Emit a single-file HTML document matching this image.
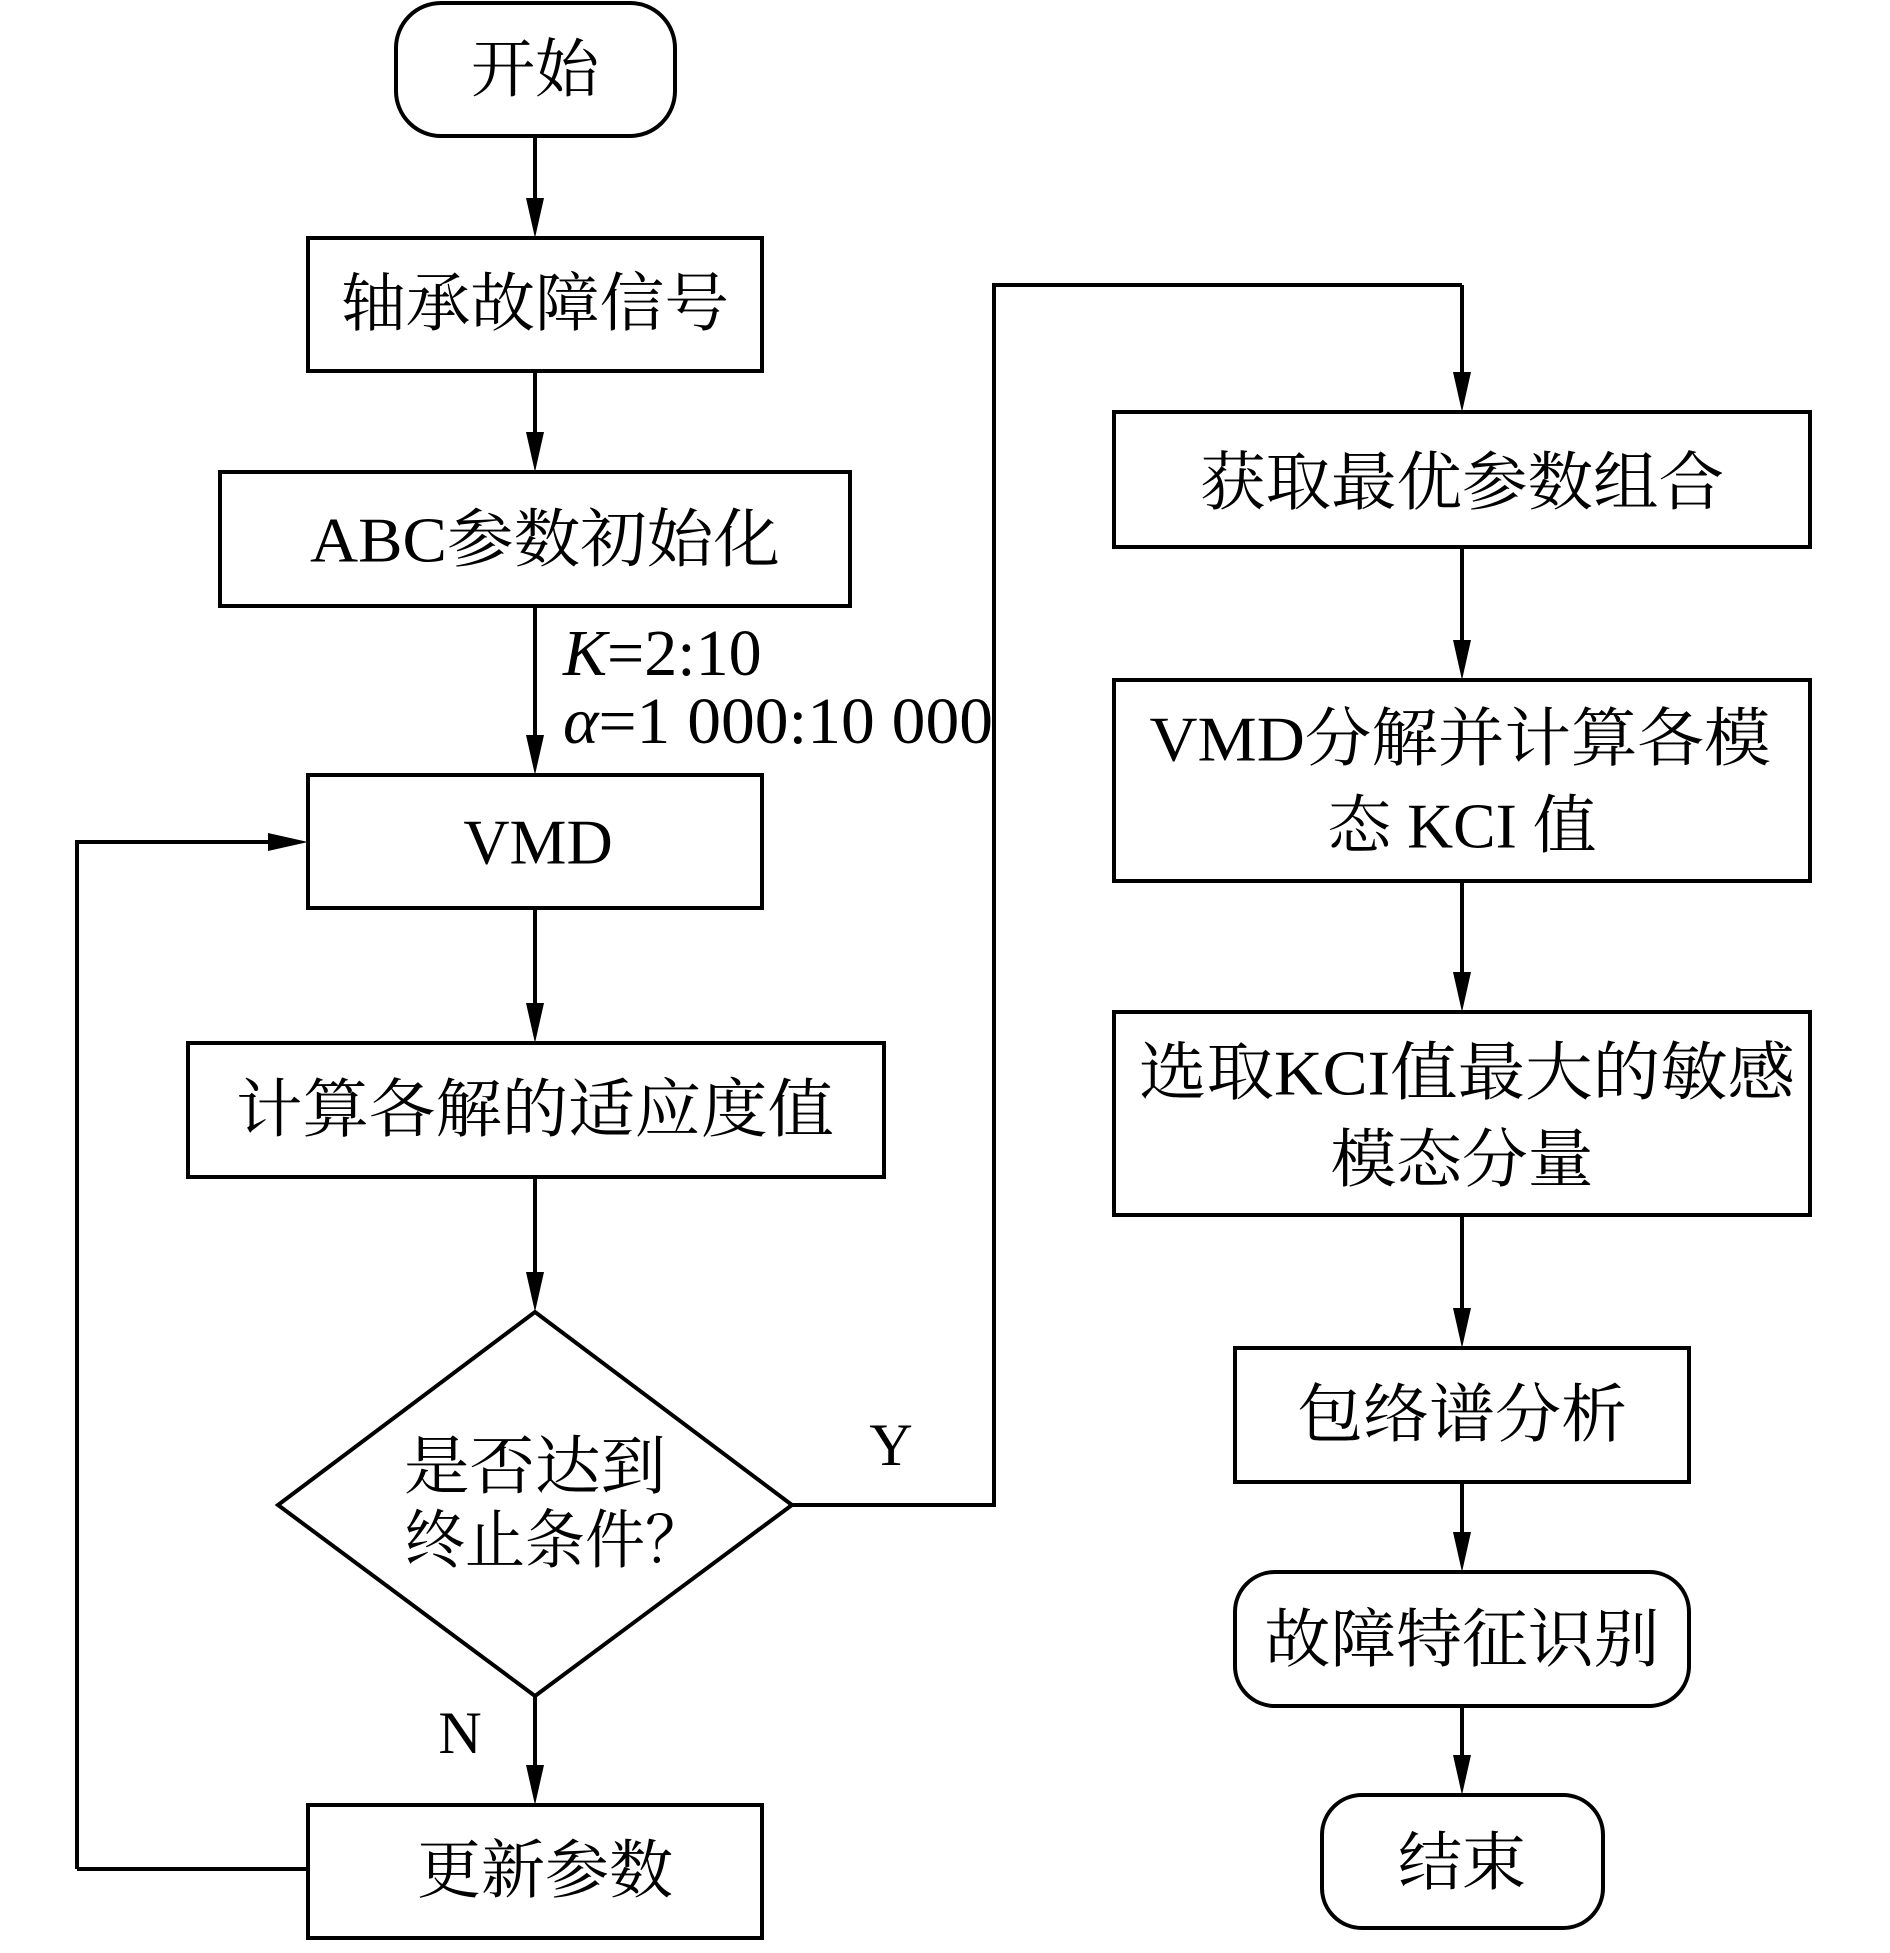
<!DOCTYPE html>
<html><head><meta charset="utf-8"><style>
html,body{margin:0;padding:0;background:#fff;}
svg{display:block;}
text{font-family:"Liberation Serif","Noto Serif CJK SC",serif;fill:#000;}
</style></head><body>
<svg width="1890" height="1953" viewBox="0 0 1890 1953" xmlns="http://www.w3.org/2000/svg">
<defs>
<marker id="a" markerWidth="18" markerHeight="40" refX="9" refY="40" orient="auto" markerUnits="userSpaceOnUse" viewBox="0 0 18 40">
<path d="M0,0 L18,0 L9,40 Z" fill="#000" transform="rotate(0)"/>
</marker>
</defs>
<g fill="none" stroke="#000" stroke-width="4">
<rect x="396" y="3" width="279" height="133" rx="45"/>
<rect x="308" y="238" width="454" height="133"/>
<rect x="220" y="472" width="630" height="134"/>
<rect x="308" y="775" width="454" height="133"/>
<rect x="188" y="1043" width="696" height="134"/>
<polygon points="535,1312 792,1505 535,1696 278,1505"/>
<rect x="308" y="1805" width="454" height="133"/>
<rect x="1114" y="412" width="696" height="135"/>
<rect x="1114" y="680" width="696" height="201"/>
<rect x="1114" y="1012" width="696" height="203"/>
<rect x="1235" y="1348" width="454" height="134"/>
<rect x="1235" y="1572" width="454" height="134" rx="40"/>
<rect x="1322" y="1795" width="281" height="133" rx="40"/>
</g>
<g stroke="#000" stroke-width="4" fill="#000">
<!-- vertical arrows: line then head -->
<path d="M535,136V200M535,371V434M535,606V737M535,908V1005M535,1177V1274M535,1696V1767M1462,285V374M1462,547V642M1462,881V974M1462,1215V1310M1462,1482V1534M1462,1706V1757" fill="none"/>
<path d="M77,1869H308M77,1869V842H270M792,1505H994V285H1462" fill="none"/>
</g>
<g fill="#000">
<path d="M526,198L544,198L535,238Z"/>
<path d="M526,432L544,432L535,472Z"/>
<path d="M526,735L544,735L535,775Z"/>
<path d="M526,1003L544,1003L535,1043Z"/>
<path d="M526,1272L544,1272L535,1312Z"/>
<path d="M526,1765L544,1765L535,1805Z"/>
<path d="M268,833L268,851L308,842Z"/>
<path d="M1453,372L1471,372L1462,412Z"/>
<path d="M1453,640L1471,640L1462,680Z"/>
<path d="M1453,972L1471,972L1462,1012Z"/>
<path d="M1453,1308L1471,1308L1462,1348Z"/>
<path d="M1453,1532L1471,1532L1462,1572Z"/>
<path d="M1453,1755L1471,1755L1462,1795Z"/>
</g>
<g font-size="64" text-anchor="middle" dominant-baseline="central">
<text x="535" y="70">开始</text>
<text x="535" y="304" textLength="388" lengthAdjust="spacingAndGlyphs">轴承故障信号</text>
<text x="545" y="540" textLength="470" lengthAdjust="spacingAndGlyphs">ABC参数初始化</text>
<text x="538" y="842">VMD</text>
<text x="535" y="1110" textLength="598" lengthAdjust="spacingAndGlyphs">计算各解的适应度值</text>
<text x="535" y="1467" textLength="262" lengthAdjust="spacingAndGlyphs">是否达到</text>
<text x="555" y="1541" textLength="300" lengthAdjust="spacingAndGlyphs">终止条件？</text>
<text x="545" y="1871">更新参数</text>
<text x="1462" y="483" textLength="524" lengthAdjust="spacingAndGlyphs">获取最优参数组合</text>
<text x="1460" y="739" textLength="621" lengthAdjust="spacingAndGlyphs">VMD分解并计算各模</text>
<text x="1462" y="826" textLength="269" lengthAdjust="spacingAndGlyphs">态 KCI 值</text>
<text x="1467" y="1073" textLength="656" lengthAdjust="spacingAndGlyphs">选取KCI值最大的敏感</text>
<text x="1462" y="1160" textLength="263" lengthAdjust="spacingAndGlyphs">模态分量</text>
<text x="1462" y="1415" textLength="330" lengthAdjust="spacingAndGlyphs">包络谱分析</text>
<text x="1462" y="1640" textLength="395" lengthAdjust="spacingAndGlyphs">故障特征识别</text>
<text x="1462" y="1863">结束</text>
<text x="891" y="1445" font-size="60">Y</text>
<text x="460" y="1733" font-size="60">N</text>
</g>
<text x="563" y="675" font-size="66"><tspan font-style="italic">K</tspan>=2:10</text>
<text x="563" y="743" font-size="66" textLength="430" lengthAdjust="spacingAndGlyphs"><tspan font-style="italic">α</tspan>=1 000:10 000</text>
</svg>
</body></html>
